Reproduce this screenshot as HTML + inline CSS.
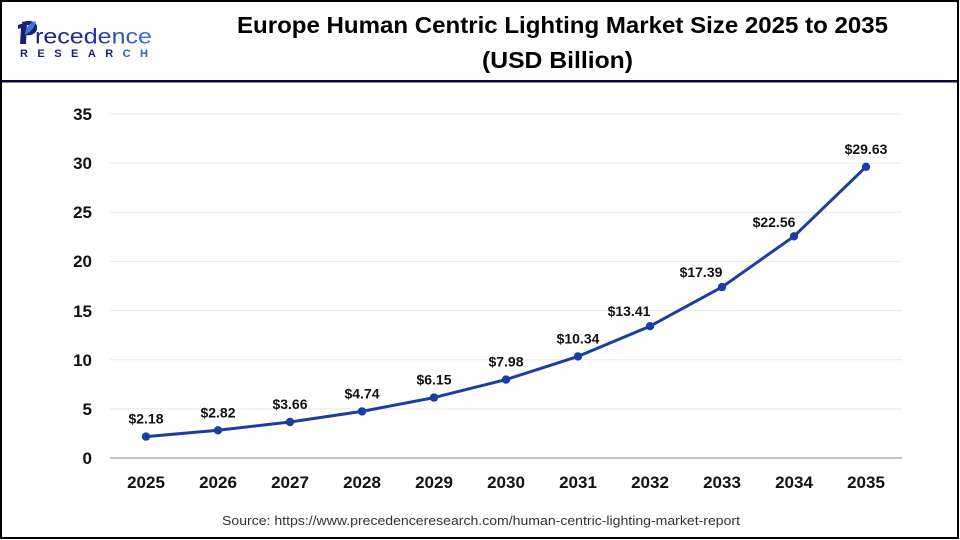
<!DOCTYPE html>
<html>
<head>
<meta charset="utf-8">
<style>
  html,body{margin:0;padding:0;background:#fff;}
  body{width:960px;height:540px;overflow:hidden;}
  svg{display:block;}
</style>
</head>
<body>
<svg width="960" height="540" viewBox="0 0 960 540" xmlns="http://www.w3.org/2000/svg">
  <defs>
    <linearGradient id="lg" x1="0" y1="0" x2="1" y2="0">
      <stop offset="0" stop-color="#1b1f6e"/>
      <stop offset="0.45" stop-color="#1f2f8a"/>
      <stop offset="1" stop-color="#3a78e0"/>
    </linearGradient>
  </defs>
  <rect x="0" y="0" width="960" height="540" fill="#fff"/>
  <!-- header divider -->
  <rect x="0" y="80" width="959" height="2.5" fill="#0b0b3b"/>
  <!-- border -->
  <rect x="1" y="1" width="957" height="537" fill="none" stroke="#000" stroke-width="2"/>

  <!-- logo -->
  <g>
    <path d="M18 25 L27 22 L26 44 L20 44 L21 28 L18 29 Z" fill="#1b1f6e"/>
    <path d="M22 22 C33 19 38 23 37 29 C36 34 31 36 25 35 L25.5 31.5 C29 32 32 30.5 32 28 C32 25 28 24.5 23 26 Z" fill="#1b1f6e"/>
    <path d="M25 35 C25 28 29 23 36 21 C35 27 31 32 25 35 Z" fill="#3a78e0"/>
    <text x="35" y="43.5" font-family="Liberation Sans, sans-serif" font-size="21" fill="url(#lg)" textLength="117" lengthAdjust="spacingAndGlyphs">recedence</text>
    <text x="20" y="57" font-family="Liberation Sans, sans-serif" font-size="11" font-weight="bold" fill="#1b1f6e" textLength="128" lengthAdjust="spacing">RESEAR<tspan fill="#2f5fc8">CH</tspan></text>
  </g>

  <!-- title -->
  <text x="237" y="33" font-family="Liberation Sans, sans-serif" font-size="23" font-weight="bold" fill="#000" textLength="651" lengthAdjust="spacingAndGlyphs">Europe Human Centric Lighting Market Size 2025 to 2035</text>
  <text x="482" y="68" font-family="Liberation Sans, sans-serif" font-size="23" font-weight="bold" fill="#000" textLength="151" lengthAdjust="spacingAndGlyphs">(USD Billion)</text>

  <!-- gridlines -->
  <g stroke="#e8e8e8" stroke-width="1">
    <line x1="110" y1="408.9" x2="902" y2="408.9"/>
    <line x1="110" y1="359.7" x2="902" y2="359.7"/>
    <line x1="110" y1="310.6" x2="902" y2="310.6"/>
    <line x1="110" y1="261.4" x2="902" y2="261.4"/>
    <line x1="110" y1="212.3" x2="902" y2="212.3"/>
    <line x1="110" y1="163.1" x2="902" y2="163.1"/>
    <line x1="110" y1="114" x2="902" y2="114"/>
  </g>
  <line x1="110" y1="458" x2="902" y2="458" stroke="#c4c4c4" stroke-width="2"/>

  <!-- y labels -->
  <g font-family="Liberation Sans, sans-serif" font-size="17" font-weight="bold" fill="#111" text-anchor="end">
    <text x="92" y="464">0</text>
    <text x="92" y="415">5</text>
    <text x="92" y="366">10</text>
    <text x="92" y="317">15</text>
    <text x="92" y="267">20</text>
    <text x="92" y="218">25</text>
    <text x="92" y="169">30</text>
    <text x="92" y="120">35</text>
  </g>

  <!-- x labels -->
  <g font-family="Liberation Sans, sans-serif" font-size="17" font-weight="bold" fill="#111" text-anchor="middle">
    <text x="146" y="488">2025</text>
    <text x="218" y="488">2026</text>
    <text x="290" y="488">2027</text>
    <text x="362" y="488">2028</text>
    <text x="434" y="488">2029</text>
    <text x="506" y="488">2030</text>
    <text x="578" y="488">2031</text>
    <text x="650" y="488">2032</text>
    <text x="722" y="488">2033</text>
    <text x="794" y="488">2034</text>
    <text x="866" y="488">2035</text>
  </g>

  <!-- series line -->
  <polyline fill="none" stroke="#1a3fa0" stroke-width="3" stroke-linejoin="round"
    points="146,436.6 218,430.3 290,422.0 362,411.4 434,397.6 506,379.6 578,356.4 650,326.2 722,287.1 794,236.3 866,166.8"/>
  <g fill="#1a3fa0">
    <circle cx="146" cy="436.6" r="4.2"/>
    <circle cx="218" cy="430.3" r="4.2"/>
    <circle cx="290" cy="422.0" r="4.2"/>
    <circle cx="362" cy="411.4" r="4.2"/>
    <circle cx="434" cy="397.6" r="4.2"/>
    <circle cx="506" cy="379.6" r="4.2"/>
    <circle cx="578" cy="356.4" r="4.2"/>
    <circle cx="650" cy="326.2" r="4.2"/>
    <circle cx="722" cy="287.1" r="4.2"/>
    <circle cx="794" cy="236.3" r="4.2"/>
    <circle cx="866" cy="166.8" r="4.2"/>
  </g>

  <!-- data labels -->
  <g font-family="Liberation Sans, sans-serif" font-size="14" font-weight="bold" fill="#111" text-anchor="middle">
    <text x="146" y="423.6">$2.18</text>
    <text x="218" y="417.3">$2.82</text>
    <text x="290" y="409.0">$3.66</text>
    <text x="362" y="398.4">$4.74</text>
    <text x="434" y="384.6">$6.15</text>
    <text x="506" y="366.6">$7.98</text>
    <text x="578" y="343.4">$10.34</text>
    <text x="629" y="316">$13.41</text>
    <text x="701" y="277">$17.39</text>
    <text x="774" y="227">$22.56</text>
    <text x="866" y="153.8">$29.63</text>
  </g>

  <!-- source -->
  <text x="222" y="525" font-family="Liberation Sans, sans-serif" font-size="12.5" fill="#333" textLength="518" lengthAdjust="spacingAndGlyphs">Source: https://www.precedenceresearch.com/human-centric-lighting-market-report</text>
</svg>
</body>
</html>
